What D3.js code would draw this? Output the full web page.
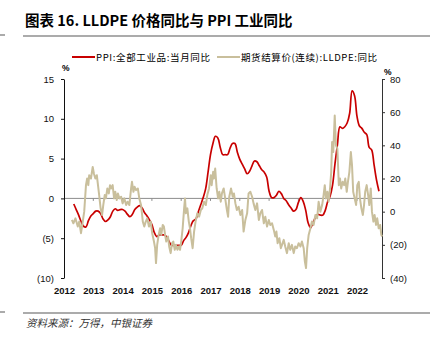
<!DOCTYPE html>
<html>
<head>
<meta charset="utf-8">
<script src="https://cdn.jsdelivr.net/npm/d3@7"></script>
<style>
  body { margin: 0; background: #fff; }
  text { font-family: "Liberation Sans", Arial, sans-serif; }
  .cjk { font-family: "Noto Sans CJK SC", sans-serif; }
</style>
</head>
<body>
<script>
// PPI monthly yoy (%), Apr 2012 .. Sep 2022, left axis
var ppiStart = [2012, 4];
var ppiValues = [
  -0.7, -1.4, -2.1, -2.9, -3.5, -3.6, -2.8, -2.2, -1.9,
  -1.6, -1.6, -1.9, -2.6, -2.9, -2.7, -2.3, -1.6, -1.3, -1.5, -1.4, -1.4,
  -1.6, -2.0, -2.3, -2.0, -1.4, -1.1, -0.9, -1.2, -1.8, -2.2, -2.7, -3.3,
  -4.3, -4.8, -4.6, -4.6, -4.6, -4.8, -5.4, -5.9, -5.9, -5.9, -5.9, -5.9,
  -5.3, -4.9, -4.3, -3.4, -2.8, -2.6, -1.7, -0.8, 0.1, 1.2, 3.3, 5.5,
  6.9, 7.8, 7.6, 6.4, 5.5, 5.5, 5.5, 6.3, 6.9, 6.9, 5.8, 4.9,
  4.3, 3.7, 3.1, 3.4, 4.1, 4.7, 4.6, 4.1, 3.6, 3.3, 2.7, 0.9,
  0.1, 0.1, 0.4, 0.9, 0.6, 0.0, -0.3, -0.8, -1.2, -1.6, -1.4, -0.5,
  0.1, -0.4, -1.5, -3.1, -3.7, -3.0, -2.4, -2.0, -2.1, -2.1, -1.5, -0.4,
  0.3, 1.7, 4.4, 6.8, 9.0, 8.8, 9.0, 9.5, 10.7, 13.5, 12.9, 10.3,
  9.1, 8.8, 8.3, 8.0, 6.4, 6.1, 4.2, 2.3, 0.9
];

// LLDPE futures settlement yoy (%), right axis; dates as decimal years
var lldpeDates = [
  2012.27, 2012.32, 2012.39, 2012.47, 2012.52, 2012.58, 2012.64, 2012.69, 2012.75, 2012.79,
  2012.83, 2012.86, 2012.92, 2012.98, 2013.02, 2013.07, 2013.12, 2013.16, 2013.20, 2013.25,
  2013.30, 2013.34, 2013.39, 2013.43, 2013.48, 2013.53, 2013.57, 2013.61, 2013.66, 2013.71,
  2013.75, 2013.80, 2013.84, 2013.89, 2013.95, 2014.00, 2014.06, 2014.12, 2014.17, 2014.23,
  2014.29, 2014.32, 2014.37, 2014.41, 2014.46, 2014.52, 2014.57, 2014.63, 2014.69, 2014.74,
  2014.79, 2014.84, 2014.90, 2014.96, 2015.01, 2015.07, 2015.11, 2015.14, 2015.18, 2015.23,
  2015.28, 2015.32, 2015.37, 2015.41, 2015.45, 2015.49, 2015.55, 2015.59, 2015.64, 2015.69,
  2015.73, 2015.78, 2015.82, 2015.87, 2015.92, 2015.96, 2016.00, 2016.05, 2016.10, 2016.13,
  2016.16, 2016.21, 2016.26, 2016.30, 2016.34, 2016.39, 2016.44, 2016.49, 2016.55, 2016.61,
  2016.67, 2016.72, 2016.78, 2016.84, 2016.89, 2016.95, 2017.01, 2017.04, 2017.09, 2017.12,
  2017.16, 2017.21, 2017.26, 2017.30, 2017.35, 2017.39, 2017.45, 2017.51, 2017.56, 2017.60,
  2017.64, 2017.70, 2017.76, 2017.80, 2017.85, 2017.90, 2017.96, 2018.02, 2018.08, 2018.13,
  2018.19, 2018.25, 2018.30, 2018.36, 2018.42, 2018.47, 2018.53, 2018.59, 2018.65, 2018.70,
  2018.76, 2018.82, 2018.87, 2018.93, 2018.99, 2019.04, 2019.10, 2019.16, 2019.21, 2019.25,
  2019.29, 2019.35, 2019.40, 2019.44, 2019.50, 2019.55, 2019.61, 2019.67, 2019.72, 2019.78,
  2019.84, 2019.89, 2019.95, 2020.01, 2020.07, 2020.12, 2020.18, 2020.22, 2020.26, 2020.30,
  2020.35, 2020.41, 2020.46, 2020.52, 2020.58, 2020.64, 2020.69, 2020.75, 2020.81, 2020.86,
  2020.90, 2020.94, 2020.99, 2021.03, 2021.08, 2021.12, 2021.15, 2021.19, 2021.24, 2021.28,
  2021.33, 2021.38, 2021.42, 2021.46, 2021.51, 2021.56, 2021.60, 2021.65, 2021.69, 2021.74,
  2021.79, 2021.83, 2021.87, 2021.92, 2021.97, 2022.01, 2022.06, 2022.10, 2022.15, 2022.20,
  2022.24, 2022.28, 2022.33, 2022.38, 2022.42, 2022.47, 2022.51, 2022.56, 2022.60, 2022.65,
  2022.69, 2022.74, 2022.79, 2022.83, 2022.86
];
var lldpeValues = [
  -5, -7, -4, -9, -6, -13, -6, 0, 16, 20,
  16, 22, 20, 27, 23, 20, 22, 16, 10, 2,
  -2, 4, 10, 8, 14, 11, 16, 14, 16, 8,
  12, 7, 11, 8, 9, 5, 8, 4, 6, 4,
  14, 18, 12, 15, 13, 14, 8, 4, -6, -9,
  -6, -4, -9, -6, -13, -18, -22, -31, -20, -14,
  -10, -14, -8, -9, -14, -18, -15, -21, -25, -19,
  -18, -23, -20, -23, -21, -23, -18, -10, 2, 8,
  -1, 2, -6, -10, -16, -22, -12, -6, -1, -3,
  1, 2, 6, 4, 10, 14, 22, 16, 24, 20,
  26, 14, 8, 12, 6, 11, 14, 7, 1, -3,
  9, 14, 9, 11, 5, 1, 3, -2, 1, -12,
  -5, -1, 11, 12, 9, 5, 1, 5, -5, -1,
  1, -7, -3, -9, -5, -8, -7, -11, -15, -12,
  -19, -16, -22, -20, -17, -21, -25, -19, -23, -20,
  -25, -21, -22, -19, -21, -18, -22, -30, -34, -22,
  -14, -10, -6, -8, -2, -4, 6, 0, 4, 10,
  16, 8, 12, 6, 14, 24, 42, 36, 58, 40,
  38, 16, 20, 14, 18, 16, 20, 12, 18, 24,
  36, 28, 12, 8, 4, 16, 18, 8, 2, -2,
  4, 12, 16, 10, 4, 14, 0, -6, -2, -8,
  -4, -10, -8, -14, -15
];

var leftTicks = [-10, -5, 0, 5, 10, 15];
var rightTicks = [-40, -20, 0, 20, 40, 60, 80];
var yearTicks = [2012, 2013, 2014, 2015, 2016, 2017, 2018, 2019, 2020, 2021, 2022];

var seriesNames = ["PPI:全部工业品:当月同比", "期货结算价(连续):LLDPE:同比"];
var seriesColors = ["#c80000", "#c9bf9c"];

var ppi = ppiValues.map(function(v, i){
  var m = ppiStart[1] - 1 + i;
  // month-end position
  return { t: ppiStart[0] + Math.floor(m / 12) + ((m % 12) + 1) / 12, v: v };
});
var lldpe = lldpeDates.map(function(t, i){ return { t: t, v: lldpeValues[i] }; });

var width = 435, height = 343;
var plotLeft = 64, plotRight = 382, plotTop = 79, plotBottom = 278;

var svg = d3.select("body").append("svg")
  .attr("width", width)
  .attr("height", height);

var x = d3.scaleLinear().domain([2012, 2023]).range([plotLeft, 386.3]);
var yL = d3.scaleLinear().domain([-10, 15]).range([plotBottom, plotTop]);
var yR = d3.scaleLinear().domain([-40, 80]).range([plotBottom, plotTop]);

var fmt = function(d){ return d < 0 ? "(" + (-d) + ")" : d; };

// title + rules
svg.append("text").attr("class", "cjk")
  .attr("x", 25).attr("y", 26)
  .attr("font-size", 14.5).attr("font-weight", "bold")
  .text("图表 16. LLDPE 价格同比与 PPI 工业同比");

[36, 313].forEach(function(yy){
  svg.append("line").attr("x1", 23).attr("x2", 430).attr("y1", yy).attr("y2", yy)
    .attr("stroke", "#8f8f8f").attr("stroke-width", 1.5);
  svg.append("line").attr("x1", 0).attr("x2", 5).attr("y1", yy - 1).attr("y2", yy - 1)
    .attr("stroke", "#8f8f8f").attr("stroke-width", 1.5);
});

// legend
var legendX = [72, 217];
var legendW = [114, 136];
seriesNames.forEach(function(name, i){
  svg.append("line")
    .attr("x1", legendX[i]).attr("x2", legendX[i] + 23)
    .attr("y1", 57).attr("y2", 57)
    .attr("stroke", seriesColors[i]).attr("stroke-width", 2);
  svg.append("text").attr("class", "cjk")
    .attr("x", legendX[i] + 24).attr("y", 60.5)
    .attr("font-size", 9.5)
    .attr("textLength", legendW[i]).attr("lengthAdjust", "spacing")
    .text(name);
});

// unit labels
svg.append("text").attr("x", 62).attr("y", 71).attr("font-size", 8.5).attr("font-weight", "bold").text("%");
svg.append("text").attr("x", 384).attr("y", 75).attr("font-size", 8.5).attr("font-weight", "bold").text("%");

// zero line with year ticks
svg.append("line")
  .attr("x1", plotLeft).attr("x2", plotRight)
  .attr("y1", yL(0)).attr("y2", yL(0))
  .attr("stroke", "#8c8c8c").attr("stroke-width", 1);
svg.selectAll(".ytick").data(yearTicks.slice(1)).enter().append("line")
  .attr("x1", function(d){ return x(d); }).attr("x2", function(d){ return x(d); })
  .attr("y1", yL(0)).attr("y2", yL(0) + 2.5)
  .attr("stroke", "#8c8c8c");

// left axis
var gL = svg.append("g").attr("transform", "translate(" + plotLeft + ",0)")
  .call(d3.axisLeft(yL).tickValues(leftTicks).tickSize(3).tickSizeOuter(0).tickFormat(fmt));
gL.selectAll("path, line").attr("stroke", "#111");
gL.selectAll("text").attr("font-size", 9.5).attr("fill", "#111").attr("x", -10);

// right axis
var gR = svg.append("g").attr("transform", "translate(" + plotRight + ",0)")
  .call(d3.axisRight(yR).tickValues(rightTicks).tickSize(3).tickSizeOuter(0).tickFormat(fmt));
gR.selectAll("path, line").attr("stroke", "#333");
gR.selectAll("text").attr("font-size", 9.5).attr("fill", "#111").attr("x", 8);

// year labels
var gX = svg.append("g").attr("transform", "translate(0,284)")
  .call(d3.axisBottom(x).tickValues(yearTicks).tickSize(0).tickFormat(d3.format("d")));
gX.select(".domain").remove();
gX.selectAll("text").attr("font-size", 9.5).attr("font-weight", "bold").attr("fill", "#111");

// series
var linePPI = d3.line()
  .x(function(d){ return x(d.t); })
  .y(function(d){ return yL(d.v); })
  .curve(d3.curveCatmullRom);
var lineLLDPE = d3.line()
  .x(function(d){ return x(d.t); })
  .y(function(d){ return yR(d.v); });

svg.append("path").datum(ppi)
  .attr("d", linePPI)
  .attr("fill", "none")
  .attr("stroke", seriesColors[0])
  .attr("stroke-width", 1.7);

svg.append("path").datum(lldpe)
  .attr("d", lineLLDPE)
  .attr("fill", "none")
  .attr("stroke", seriesColors[1])
  .attr("stroke-width", 2)
  .attr("stroke-linejoin", "round");

// source
svg.append("text").attr("class", "cjk")
  .attr("x", 26).attr("y", 327)
  .attr("font-size", 10.5).attr("font-style", "italic").attr("fill", "#333")
  .text("资料来源：万得，中银证券");
</script>
</body>
</html>
